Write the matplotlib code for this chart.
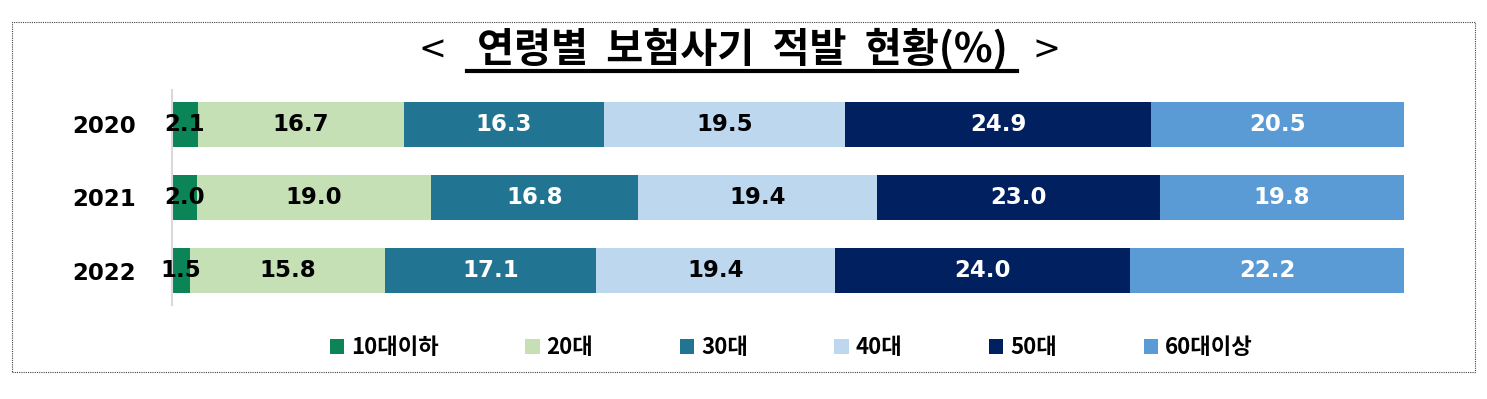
import numpy as np
import matplotlib.pyplot as plt
from matplotlib.patches import Rectangle

plt.rcParams['font.family'] = ['Noto Sans CJK KR', 'DejaVu Sans']

years = ['2020', '2021', '2022']
groups = ['10대이하', '20대', '30대', '40대', '50대', '60대이상']
values = [
    [2.1, 2.0, 1.5],
    [16.7, 19.0, 15.8],
    [16.3, 16.8, 17.1],
    [19.5, 19.4, 19.4],
    [24.9, 23.0, 24.0],
    [20.5, 19.8, 22.2],
]
colors = ['#0B8457', '#C5E0B4', '#217592', '#BDD7EE', '#002060', '#5B9BD5']
text_colors = ['black', 'black', 'white', 'black', 'white', 'white']

fig = plt.figure(figsize=(14.87, 3.99), dpi=100)
ax = fig.add_axes([172 / 1487, 1 - 305 / 399, (1404 - 172) / 1487, (305 - 90) / 399])

ypos = np.arange(len(years))
left = np.zeros(len(years))
for i, g in enumerate(groups):
    v = np.array(values[i])
    ax.barh(ypos, v, left=left, height=0.62, color=colors[i], label=g)
    for y, l, val in zip(ypos, left, v):
        ax.text(l + val / 2, y, f'{val:.1f}', ha='center', va='center',
                fontsize=16.5, fontweight='bold', color=text_colors[i], family='DejaVu Sans')
    left += v

ax.set_xlim(0, 100)
ax.set_ylim(2.47, -0.47)
ax.set_yticks(ypos)
ax.set_yticklabels(years, fontsize=16.5, fontweight='bold', family='DejaVu Sans')
ax.tick_params(axis='y', length=0, pad=26)
ax.set_xticks([])
for s in ['top', 'right', 'bottom']:
    ax.spines[s].set_visible(False)
ax.spines['left'].set_color('#d9d9d9')
ax.spines['left'].set_linewidth(1.5)

# dotted border
fig.patches.append(Rectangle((12 / 1487, 1 - 372 / 399), (1475 - 12) / 1487, (372 - 22) / 399,
                             transform=fig.transFigure, fill=False, linestyle=(0, (1, 1)),
                             linewidth=0.8, edgecolor='#444444'))

# title
ty = 1 - 50 / 399
fig.text(432 / 1487, ty, '<', ha='center', va='center', fontsize=24, family='DejaVu Sans')
fig.text(1046 / 1487, ty, '>', ha='center', va='center', fontsize=24, family='DejaVu Sans')
fig.text(742 / 1487, ty, '연령별  보험사기  적발  현황(%)', ha='center', va='center',
         fontsize=29, fontweight='bold', family=['Noto Sans CJK KR', 'DejaVu Sans'])
fig.add_artist(plt.Line2D([467 / 1487, 1017 / 1487], [1 - 71 / 399, 1 - 71 / 399],
                          color='black', linewidth=3))

handles, labels = ax.get_legend_handles_labels()
fig.legend(handles, labels, loc='center', bbox_to_anchor=(0.532, 1 - 348 / 399), ncol=6,
           frameon=False, prop={'size': 16, 'weight': 'bold'}, handlelength=0.65,
           handleheight=0.65, handletextpad=0.3, columnspacing=3.9)

fig.savefig('out.png', dpi=100)
